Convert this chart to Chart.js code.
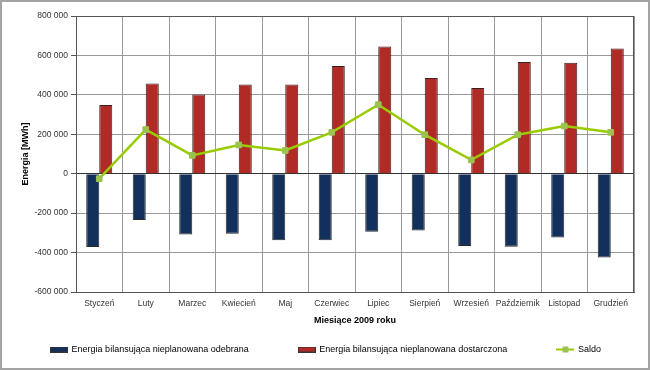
<!DOCTYPE html>
<html>
<head>
<meta charset="utf-8">
<script src="https://cdn.jsdelivr.net/npm/chart.js@4"></script>
<style>
  html, body { margin: 0; padding: 0; background: #fff; }
  #ramka {
    position: absolute; left: 0; top: 0;
    width: 650px; height: 370px; box-sizing: border-box;
    border: 2px solid #a3a3a3; background: #fff;
  }
  #wykres { display: block; }
</style>
</head>
<body>
<div id="ramka"><canvas id="wykres" width="646" height="366"></canvas></div>
<script>
const miesiace = ["Styczeń", "Luty", "Marzec", "Kwiecień", "Maj", "Czerwiec", "Lipiec",
  "Sierpień", "Wrzesień", "Październik", "Listopad", "Grudzień"];
// Energia odebrana (ujemna) i dostarczona, MWh
const odebrana = [-372000, -235000, -308000, -305000, -337000, -337000, -294000,
  -288000, -367000, -371000, -323000, -425000];
const dostarczona = [349000, 457000, 402000, 453000, 453000, 547000, 645000,
  486000, 435000, 567000, 563000, 635000];
const saldo = [-25000, 224000, 93000, 146000, 118000, 210000, 350000,
  198000, 70000, 198000, 242000, 210000];
const nazwySerii = ["Energia bilansująca nieplanowana odebrana",
  "Energia bilansująca nieplanowana dostarczona", "Saldo"];

const czcionka = "'Liberation Sans', Arial, sans-serif";
const NIEBIESKI = "#13305d";
const CZERWONY = "#b02a26";
const ZIELONY = "#99cc00";
const ZNACZNIK = "#9bc34f";

// Formatowanie liczb: 800 000
const formatuj = (v) => String(v).replace(/\B(?=(\d{3})+(?!\d))/g, " ");

// Małe obrazki do legendy
function prostokat(kolor) {
  const c = document.createElement("canvas");
  c.width = 18; c.height = 6;
  const g = c.getContext("2d");
  g.fillStyle = "#333";
  g.fillRect(0, 0, 18, 6);
  g.fillStyle = kolor;
  g.fillRect(1, 1, 16, 4);
  return c;
}
function liniaZnacznik() {
  const c = document.createElement("canvas");
  c.width = 18; c.height = 8;
  const g = c.getContext("2d");
  g.fillStyle = ZIELONY;
  g.fillRect(0, 3, 18, 2);
  g.fillStyle = ZNACZNIK;
  g.fillRect(6, 1, 6, 6);
  return c;
}
const ikony = [prostokat(NIEBIESKI), prostokat(CZERWONY), liniaZnacznik()];

// Ramka obszaru wykresu
const ramkaObszaru = {
  id: "ramkaObszaru",
  beforeDatasetsDraw(chart) {
    const { ctx, chartArea: a } = chart;
    ctx.save();
    ctx.strokeStyle = "#555";
    ctx.lineWidth = 1;
    ctx.strokeRect(Math.round(a.left) + 0.5, Math.round(a.top) + 0.5,
      Math.round(a.right - a.left) - 1, Math.round(a.bottom - a.top));
    ctx.restore();
  }
};

Chart.defaults.font.family = czcionka;

new Chart(document.getElementById("wykres"), {
  type: "bar",
  data: {
    labels: miesiace,
    datasets: [
      {
        label: nazwySerii[0],
        data: odebrana,
        backgroundColor: NIEBIESKI,
        borderColor: "#2a2a2a",
        borderWidth: 1,
        order: 1
      },
      {
        label: nazwySerii[1],
        data: dostarczona,
        backgroundColor: CZERWONY,
        borderColor: "#3a2020",
        borderWidth: 1,
        order: 1
      },
      {
        type: "line",
        label: nazwySerii[2],
        data: saldo,
        borderColor: ZIELONY,
        borderWidth: 2.5,
        pointStyle: "rect",
        pointRadius: 4,
        pointBackgroundColor: ZNACZNIK,
        pointBorderColor: ZNACZNIK,
        pointBorderWidth: 1,
        tension: 0,
        order: 0
      }
    ]
  },
  options: {
    responsive: false,
    animation: false,
    layout: { padding: { top: 14, right: 14, bottom: 4, left: 16 } },
    datasets: {
      bar: { barPercentage: 1, categoryPercentage: 0.56 }
    },
    scales: {
      x: {
        grid: { color: "#999", drawTicks: false },
        border: { color: "#555" },
        ticks: {
          color: "#333", font: { size: 8.5 }, padding: 7,
          maxRotation: 0, autoSkip: false
        },
        title: {
          display: true,
          text: "Miesiące 2009 roku",
          color: "#000",
          font: { size: 9, weight: "bold" },
          padding: { top: 0, bottom: 9 }
        },
        afterFit: (s) => { s.height = 43; }
      },
      y: {
        min: -600000,
        max: 800000,
        grid: {
          color: (c) => (c.tick && c.tick.value === 0 ? "#333" : "#999"),
          tickColor: "#555",
          tickLength: 5
        },
        border: { color: "#555" },
        ticks: {
          stepSize: 200000,
          color: "#333",
          font: { size: 8.5 },
          padding: 3,
          callback: (v) => formatuj(v)
        },
        title: {
          display: true,
          text: "Energia [MWh]",
          color: "#000",
          font: { size: 9, weight: "bold" },
          padding: { top: 2, bottom: 0 }
        },
        afterFit: (s) => { s.width = 58; }
      }
    },
    plugins: {
      tooltip: { enabled: false },
      legend: {
        position: "bottom",
        labels: {
          usePointStyle: true,
          pointStyleWidth: 16,
          padding: 10,
          color: "#000",
          font: { size: 9 },
          // kolejność jak w serii danych, z odstępem między pozycjami
          generateLabels: (chart) => chart.data.datasets.map((ds, i) => ({
            text: i < 2 ? ds.label + " ".repeat(16) : ds.label,
            pointStyle: ikony[i],
            fillStyle: "transparent",
            strokeStyle: "transparent",
            lineWidth: 0,
            hidden: false,
            datasetIndex: i
          }))
        }
      }
    }
  },
  plugins: [ramkaObszaru]
});
</script>
</body>
</html>
